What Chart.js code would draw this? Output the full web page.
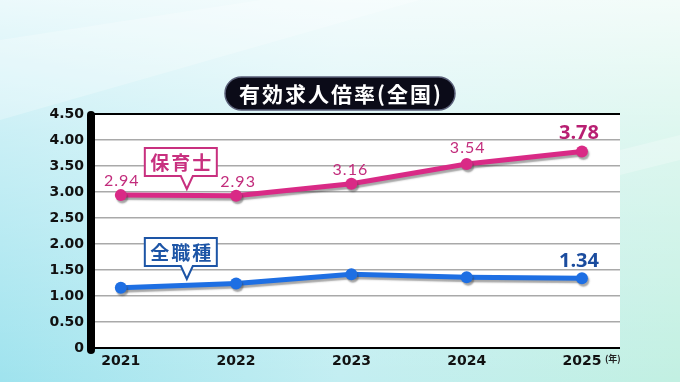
<!DOCTYPE html>
<html><head><meta charset="utf-8">
<script src="https://cdn.jsdelivr.net/npm/chart.js@4.4.1/dist/chart.umd.min.js"></script>
<style>
html,body{margin:0;padding:0;width:680px;height:382px;overflow:hidden;background:#d8f3f3;}
#wrap{position:relative;width:680px;height:382px;}
canvas{display:block;}
</style></head><body><div id="wrap"><canvas id="c" width="680" height="382"></canvas></div>
<script>
// ---- data ----
const years = [2021, 2022, 2023, 2024, 2025];
const hoikushi = [2.94, 2.93, 3.16, 3.54, 3.78];
const zenShokushu = [1.16, 1.24, 1.42, 1.36, 1.34];
const yTickValues = [0, 0.5, 1, 1.5, 2, 2.5, 3, 3.5, 4, 4.5];
const seriesNames = ['保育士', '全職種'];
const chartTitle = '有効求人倍率(全国)';
const xUnit = '(年)';

// ---- styles ----
const PINK = '#d92a86', BLUE = '#1e6fe3';
const pinkText = '#c22c7c', pinkBig = '#b81f72', blueBig = '#1b4c9e';

const toPts = vals => years.map((y, i) => ({x: y, y: vals[i]}));

const bgPlugin = {
  id: 'bg',
  beforeDraw(chart) {
    const {ctx, chartArea: a, width, height} = chart;
    ctx.save();
    let g = ctx.createLinearGradient(0, 0, width, 0);
    g.addColorStop(0, '#9fe3ee');
    g.addColorStop(0.5, '#c3eef2');
    g.addColorStop(1, '#c2f0e2');
    ctx.fillStyle = g; ctx.fillRect(0, 0, width, height);
    let v = ctx.createLinearGradient(0, 0, 0, height);
    v.addColorStop(0, 'rgba(255,255,255,0.8)');
    v.addColorStop(0.35, 'rgba(255,255,255,0.45)');
    v.addColorStop(1, 'rgba(255,255,255,0.0)');
    ctx.fillStyle = v; ctx.fillRect(0, 0, width, height);
    ctx.fillStyle = 'rgba(255,255,255,0.25)';
    ctx.beginPath(); ctx.moveTo(0, 40); ctx.lineTo(260, 0); ctx.lineTo(420, 0); ctx.lineTo(0, 120); ctx.closePath(); ctx.fill();
    ctx.beginPath(); ctx.moveTo(620, 150); ctx.lineTo(680, 135); ctx.lineTo(680, 160); ctx.lineTo(620, 175); ctx.closePath(); ctx.fill();
    ctx.fillStyle = '#ffffff';
    ctx.fillRect(a.left, a.top, a.right - a.left, a.bottom - a.top);
    ctx.restore();
  }
};

const shadowPlugin = {
  id: 'lineShadow',
  beforeDatasetDraw(chart) {
    const ctx = chart.ctx;
    ctx.save();
    ctx.shadowColor = 'rgba(60,60,60,0.45)';
    ctx.shadowOffsetX = 1.5; ctx.shadowOffsetY = 2.5; ctx.shadowBlur = 1.5;
  },
  afterDatasetDraw(chart) { chart.ctx.restore(); }
};

function roundRect(ctx, x, y, w, h, r) {
  ctx.beginPath();
  ctx.moveTo(x + r, y); ctx.lineTo(x + w - r, y); ctx.arcTo(x + w, y, x + w, y + r, r);
  ctx.lineTo(x + w, y + h - r); ctx.arcTo(x + w, y + h, x + w - r, y + h, r);
  ctx.lineTo(x + r, y + h); ctx.arcTo(x, y + h, x, y + h - r, r);
  ctx.lineTo(x, y + r); ctx.arcTo(x, y, x + r, y, r); ctx.closePath();
}

function callout(ctx, x, y, w, h, tipX, tipY, color, text) {
  ctx.save();
  ctx.beginPath();
  ctx.moveTo(x, y); ctx.lineTo(x + w, y); ctx.lineTo(x + w, y + h);
  ctx.lineTo(tipX + 6, y + h); ctx.lineTo(tipX, tipY); ctx.lineTo(tipX - 6, y + h);
  ctx.lineTo(x, y + h); ctx.closePath();
  ctx.fillStyle = '#ffffff'; ctx.fill();
  ctx.lineWidth = 2; ctx.strokeStyle = color; ctx.lineJoin = 'miter'; ctx.stroke();
  ctx.fillStyle = color;
  ctx.font = 'bold 19px "Noto Sans CJK JP"';
  ctx.letterSpacing = '2px';
  ctx.textAlign = 'center'; ctx.textBaseline = 'middle';
  ctx.fillText(text, x + w / 2 + 1, y + h / 2 + 1);
  ctx.restore();
}

const decoPlugin = {
  id: 'deco',
  afterDraw(chart) {
    const {ctx, chartArea: a, scales} = chart;
    ctx.save();
    ctx.strokeStyle = '#000'; ctx.lineWidth = 8; ctx.lineCap = 'round';
    ctx.beginPath(); ctx.moveTo(a.left - 1, a.top + 1); ctx.lineTo(a.left - 1, a.bottom + 2); ctx.stroke();
    roundRect(ctx, 225, 77, 230, 33, 16.5);
    ctx.fillStyle = '#0b0b18'; ctx.fill();
    ctx.lineWidth = 1.5; ctx.strokeStyle = '#5a5f78'; ctx.stroke();
    ctx.fillStyle = '#ffffff';
    ctx.font = 'bold 21px "Noto Sans CJK JP"';
    ctx.letterSpacing = '2px';
    ctx.textAlign = 'center'; ctx.textBaseline = 'middle';
    ctx.fillText(chartTitle, 341, 94);
    ctx.letterSpacing = '0px';
    ctx.fillStyle = '#222'; ctx.font = 'bold 9px "Noto Sans CJK JP"';
    ctx.textAlign = 'left';
    ctx.fillText(xUnit, scales.x.getPixelForValue(years[years.length - 1]) + 23, 359);
    ctx.restore();

    const x0 = scales.x.getPixelForValue(years[0]);
    callout(ctx, x0 + 24, 148, 72, 28, x0 + 66, 189, '#c8307f', seriesNames[0]);
    callout(ctx, x0 + 24, 238, 72, 28, x0 + 66, 279, '#1d55a6', seriesNames[1]);

    const labelCfg = [
      {ds: 0, items: [
        {i: 0, dx: 1, dy: -14, font: '16px Lato', color: pinkText, ls: '1px'},
        {i: 1, dx: 2, dy: -14, font: '16px Lato', color: pinkText, ls: '1px'},
        {i: 2, dx: -1, dy: -14, font: '16px Lato', color: pinkText, ls: '1px'},
        {i: 3, dx: 1, dy: -16, font: '16px Lato', color: pinkText, ls: '1px'},
        {i: 4, dx: -3, dy: -18, font: 'bold 20px "Open Sans"', color: pinkBig, ls: '0px'}
      ]},
      {ds: 1, items: [
        {i: 4, dx: -3, dy: -17, font: 'bold 20px "Open Sans"', color: blueBig, ls: '0px'}
      ]}
    ];
    const src = [hoikushi, zenShokushu];
    ctx.save();
    ctx.textAlign = 'center'; ctx.textBaseline = 'middle';
    labelCfg.forEach(c => {
      const meta = chart.getDatasetMeta(c.ds);
      c.items.forEach(it => {
        const p = meta.data[it.i];
        ctx.font = it.font; ctx.fillStyle = it.color; ctx.letterSpacing = it.ls;
        ctx.fillText(src[c.ds][it.i].toFixed(2), p.x + it.dx, p.y + it.dy);
      });
    });
    ctx.restore();
  }
};

new Chart(document.getElementById('c'), {
  type: 'line',
  data: {
    datasets: [
      {label: seriesNames[0], data: toPts(hoikushi), borderColor: PINK, backgroundColor: PINK,
       pointBackgroundColor: PINK, borderWidth: 5, pointRadius: 6, pointBorderWidth: 0, tension: 0, clip: false},
      {label: seriesNames[1], data: toPts(zenShokushu), borderColor: BLUE, backgroundColor: BLUE,
       pointBackgroundColor: BLUE, borderWidth: 5, pointRadius: 6, pointBorderWidth: 0, tension: 0, clip: false}
    ]
  },
  options: {
    responsive: false, animation: false, devicePixelRatio: 1,
    layout: {padding: {top: 114, right: 60, left: 0, bottom: 0}},
    plugins: {legend: {display: false}, tooltip: {enabled: false}, title: {display: false}},
    scales: {
      x: {
        type: 'linear', min: 2020.75, max: 2025.33,
        afterFit(s) { s.height = 34; },
        afterBuildTicks(s) { s.ticks = years.map(v => ({value: v})); },
        grid: {display: false, drawTicks: false},
        border: {display: false},
        ticks: {color: '#111', padding: 5, font: {family: '"DejaVu Sans"', weight: 'bold', size: 14},
                callback: v => String(v), maxRotation: 0, autoSkip: false}
      },
      y: {
        min: 0, max: 4.5,
        afterFit(s) { s.width = 92; },
        afterBuildTicks(s) { s.ticks = yTickValues.map(v => ({value: v})); },
        grid: {drawTicks: false,
               color: c => (c.tick.value === 0 || c.tick.value === 4.5) ? '#000' : '#a9a9a9',
               lineWidth: c => (c.tick.value === 0 || c.tick.value === 4.5) ? 2 : 1.5},
        border: {display: false},
        ticks: {color: '#111', padding: 8, font: {family: '"DejaVu Sans"', weight: 'bold', size: 14},
                callback: v => v === 0 ? '0' : v.toFixed(2)}
      }
    }
  },
  plugins: [bgPlugin, shadowPlugin, decoPlugin]
});
</script></body></html>
